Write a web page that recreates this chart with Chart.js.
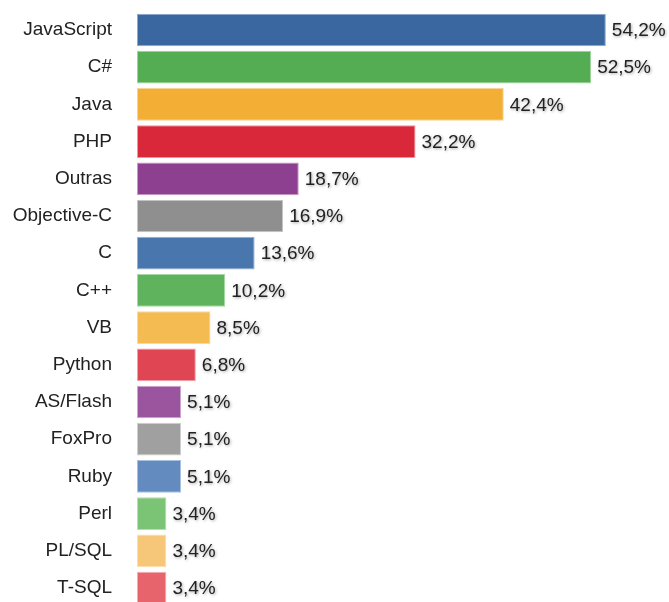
<!DOCTYPE html>
<html>
<head>
<meta charset="utf-8">
<script src="https://cdn.jsdelivr.net/npm/chart.js@4/dist/chart.umd.min.js"></script>
<style>
  html, body { margin: 0; padding: 0; background: #fff; overflow: hidden; }
  #wrap { width: 669px; height: 618px; }
</style>
</head>
<body>
<div id="wrap"><canvas id="langChart" width="669" height="618"></canvas></div>
<script>
// --- Data ---
const languages = ['JavaScript', 'C#', 'Java', 'PHP', 'Outras', 'Objective-C', 'C', 'C++',
    'VB', 'Python', 'AS/Flash', 'FoxPro', 'Ruby', 'Perl', 'PL/SQL', 'T-SQL'];
const shares = [54.2, 52.5, 42.4, 32.2, 18.7, 16.9, 13.6, 10.2, 8.5, 6.8, 5.1, 5.1, 5.1, 3.4, 3.4, 3.4];
const barColors = ['#3a67a0', '#55ad53', '#f2ae35', '#d9283a', '#8e4090', '#8f8f8f', '#4a76ae', '#60b35d',
    '#f4bb52', '#e04553', '#9b549e', '#a0a0a0', '#648bc0', '#7cc475', '#f6c679', '#e8646d'];
const edgeColors = ['#8ea9cf', '#9fd39d', '#f8d395', '#f0939c', '#c79ac8', '#c6c6c6', '#96b0d6', '#a6d8a4',
    '#f9d99e', '#f0a0a7', '#cda6ce', '#cfcfcf', '#a9c0de', '#b5e0b1', '#fbe0b3', '#f3acb1'];

const FONT = '"Liberation Sans", Arial, sans-serif';

// value labels drawn right of each bar, with a soft shadow
const valueLabels = {
    id: 'valueLabels',
    afterDatasetsDraw(chart) {
        const ctx = chart.ctx;
        const meta = chart.getDatasetMeta(0);
        ctx.save();
        ctx.font = '19px ' + FONT;
        ctx.fillStyle = '#222';
        ctx.textAlign = 'left';
        ctx.textBaseline = 'middle';
        ctx.shadowColor = 'rgba(0, 0, 0, 0.35)';
        ctx.shadowBlur = 3;
        ctx.shadowOffsetX = 1;
        ctx.shadowOffsetY = 1;
        meta.data.forEach((bar, i) => {
            const txt = shares[i].toFixed(1).replace('.', ',') + '%';
            ctx.fillText(txt, bar.x + 6, bar.y + 1);
        });
        ctx.restore();
    }
};

const ctx = document.getElementById('langChart').getContext('2d');
new Chart(ctx, {
    type: 'bar',
    data: {
        labels: languages,
        datasets: [{
            data: shares,
            backgroundColor: barColors,
            borderColor: edgeColors,
            borderWidth: 1,
            borderSkipped: false,
            barPercentage: 0.88,
            categoryPercentage: 1.0
        }]
    },
    options: {
        indexAxis: 'y',
        responsive: false,
        animation: false,
        layout: { autoPadding: false, padding: { top: 6.5, right: 13, bottom: 0, left: 0 } },
        plugins: { legend: { display: false }, tooltip: { enabled: false } },
        scales: {
            x: {
                min: 0, max: 60,
                display: false,
                grid: { display: false }
            },
            y: {
                grid: { display: false, drawTicks: true, tickLength: 25 },
                border: { display: false },
                ticks: {
                    color: '#222',
                    padding: 0,
                    font: { family: FONT, size: 19 }
                },
                afterFit(scale) { scale.width = 137; }
            }
        }
    },
    plugins: [valueLabels]
});
</script>
</body>
</html>
